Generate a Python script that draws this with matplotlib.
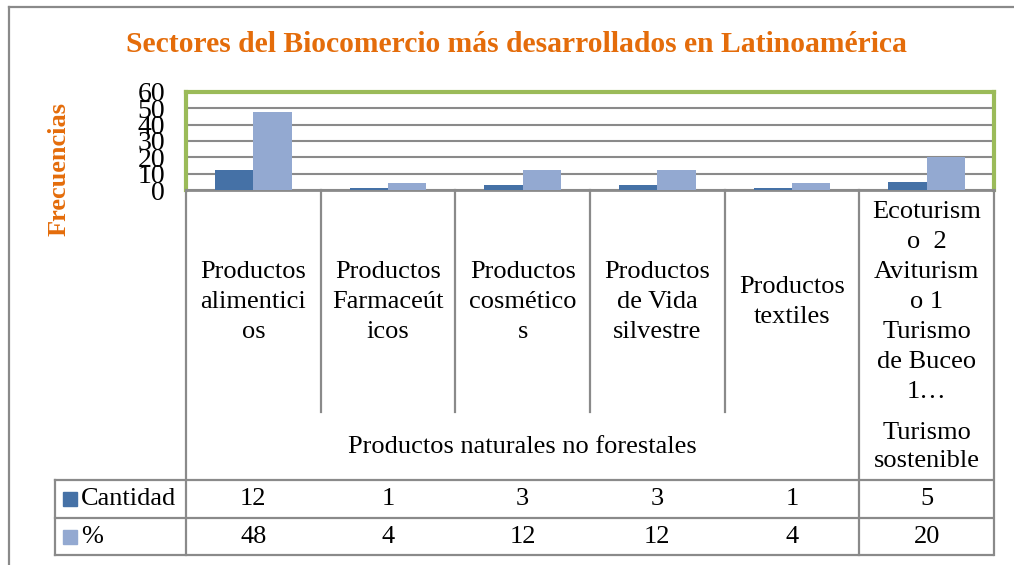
import numpy as np
import matplotlib
matplotlib.use("Agg")
import matplotlib.pyplot as plt
from matplotlib.lines import Line2D
from matplotlib.patches import Rectangle
import matplotlib.transforms as mtransforms


# Data ------------------------------------------------------------------

Categories = ["Productos\nalimentici\nos", "Productos\nFarmaceút\nicos",
              "Productos\ncosmético\ns", "Productos\nde Vida\nsilvestre",
              "Productos\ntextiles",
              "Ecoturism\no  2\nAviturism\no 1\nTurismo\nde Buceo\n1…"]
Groups = ["Productos naturales no forestales", "Turismo\nsostenible"]
Group_Span = [5, 1]

Cantidad = [12, 1, 3, 3, 1, 5]
Porcentaje = [48, 4, 12, 12, 4, 20]
Series_Names = ["Cantidad", "%"]

Y_Ticks = [0, 10, 20, 30, 40, 50, 60]


# Plotting --------------------------------------------------------------

plt.rcParams["font.family"] = ["Liberation Serif", "DejaVu Serif"]

W, H = 1014, 565
Orange = "#E46C0A"
Gray = "#8A8A8A"
Green = "#9BBB59"
Dark = "#4571A6"
Light = "#93A9D1"
Txt = 19

fig = plt.figure(figsize=(W / 100, H / 100), dpi=100)

def fx(px):
    return px / W

def fy(py):
    return 1 - py / H

ax = fig.add_axes([fx(186), fy(190), fx(994) - fx(186), fy(92) - fy(190)])

N = len(Categories)
X = np.arange(N)
Bar_W = 0.285

ax.bar(X - Bar_W, Cantidad, width=Bar_W, align="edge", color=Dark, zorder=3)
ax.bar(X, Porcentaje, width=Bar_W, align="edge", color=Light, zorder=3)

ax.set_xlim(-0.5, N - 0.5)
ax.set_ylim(0, 60)
ax.set_yticks(Y_Ticks)
ax.set_yticklabels([str(v) for v in Y_Ticks], fontsize=20)
ax.tick_params(axis="y", length=0, pad=15)
ax.set_xticks([])
ax.yaxis.grid(True, color=Gray, linewidth=1.5, zorder=0)

for side in ["top", "left", "right"]:
    ax.spines[side].set_color(Green)
    ax.spines[side].set_linewidth(3)
ax.spines["bottom"].set_color(Gray)
ax.spines["bottom"].set_linewidth(2)

# Title and axis label
fig.text(fx(516), fy(45), "Sectores del Biocomercio más desarrollados en Latinoamérica",
         ha="center", va="center", fontsize=21.3, fontweight="bold", color=Orange)
fig.text(fx(59), fy(169), "Frecuencias", rotation=90, ha="center", va="center",
         fontsize=19, fontweight="bold", color=Orange)

# Category table below the axis (x in data units, y in figure units)
trans = mtransforms.blended_transform_factory(ax.transData, fig.transFigure)

def vline(xd, y0, y1):
    fig.add_artist(Line2D([xd, xd], [fy(y0), fy(y1)], transform=trans,
                          color=Gray, linewidth=1.6, clip_on=False))

def hline_fig(x0, x1, y):
    fig.add_artist(Line2D([fx(x0), fx(x1)], [fy(y), fy(y)], transform=fig.transFigure,
                          color=Gray, linewidth=1.6))

Bounds = np.arange(N + 1) - 0.5
Group_Edges = np.cumsum([0] + Group_Span) - 0.5
for b in Bounds:
    if b in Group_Edges:
        vline(b, 190, 555)
    else:
        vline(b, 190, 412)

for i, lab in enumerate(Categories):
    fig.text(X[i], fy(302), lab, transform=trans, ha="center", va="center",
             fontsize=Txt, linespacing=1.48)

for g, lab in enumerate(Groups):
    xc = (Group_Edges[g] + Group_Edges[g + 1]) / 2
    fig.text(xc, fy(447), lab, transform=trans, ha="center", va="center",
             fontsize=Txt, linespacing=1.32)

# Data table rows
for yy in [480, 518, 555]:
    hline_fig(55, 993, yy)
fig.add_artist(Line2D([fx(55), fx(55)], [fy(480), fy(555)], transform=fig.transFigure,
                      color=Gray, linewidth=1.6))

Rows = [Cantidad, Porcentaje]
Row_Y = [499, 537]
Row_C = [Dark, Light]
for r in range(2):
    fig.add_artist(Rectangle((fx(63), fy(Row_Y[r] + 7)), fx(14), fy(0) - fy(14),
                             transform=fig.transFigure, color=Row_C[r]))
    fig.text(fx(81), fy(Row_Y[r]), Series_Names[r], ha="left", va="center", fontsize=Txt)
    for i in range(N):
        fig.text(X[i], fy(Row_Y[r]), str(Rows[r][i]), transform=trans,
                 ha="center", va="center", fontsize=Txt)

# Outer frame
fig.add_artist(Line2D([fx(9), fx(9)], [fy(7), 0], transform=fig.transFigure,
                      color=Gray, linewidth=1.6))
fig.add_artist(Line2D([fx(9), 1], [fy(7), fy(7)], transform=fig.transFigure,
                      color=Gray, linewidth=1.6))

plt.savefig("out.png", dpi=100)
